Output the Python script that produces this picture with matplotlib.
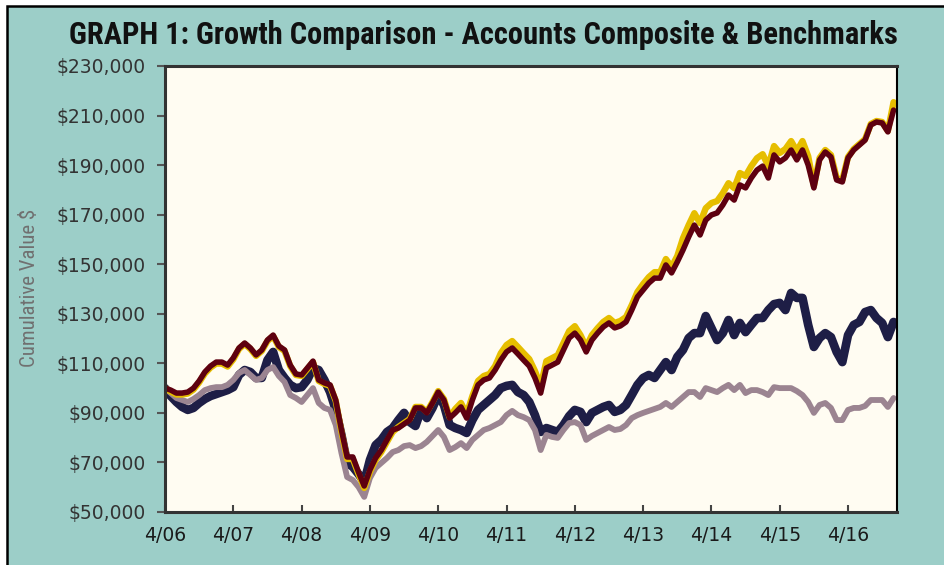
import matplotlib.pyplot as plt
import numpy as np
from matplotlib import font_manager
from matplotlib.patches import Rectangle

# monthly points, 4/06 .. 12/16 (values in $ thousands)
start_year = 2006.25
months = np.arange(129)
dates = start_year + months / 12.0

benchmark_gold = [
    100.0, 98.6, 97.4, 97.4, 97.8, 99.4, 102.3, 105.9, 108.3, 109.9, 109.9, 108.7,
    111.6, 115.8, 117.8, 115.8, 113.0, 115.0, 119.0, 121.0, 116.6, 115.0, 108.9, 105.3,
    104.9, 107.7, 110.5, 102.9, 101.7, 100.9, 94.8, 82.3, 71.4, 71.4, 65.3, 59.7,
    66.2, 71.0, 74.2, 78.3, 82.3, 84.3, 85.9, 87.5, 92.4, 92.4, 90.4, 94.4,
    98.8, 95.6, 88.3, 91.6, 94.0, 89.5, 96.8, 102.9, 104.9, 105.7, 108.9, 114.1,
    117.4, 119.0, 116.6, 114.1, 111.7, 106.9, 100.8, 110.9, 112.1, 113.3, 118.2, 123.0,
    125.0, 121.4, 116.6, 121.4, 124.2, 126.7, 128.3, 126.3, 127.1, 128.7, 133.5, 138.8,
    142.0, 144.8, 146.8, 146.8, 152.1, 148.9, 153.3, 160.5, 165.8, 170.6, 166.6, 172.6,
    174.7, 175.5, 178.7, 182.7, 180.7, 186.8, 185.6, 189.6, 192.8, 194.4, 189.6, 197.7,
    194.9, 196.5, 199.7, 195.7, 199.7, 193.6, 181.6, 192.9, 196.1, 194.1, 184.8, 184.0,
    193.3, 196.5, 198.5, 200.5, 206.6, 207.8, 207.4, 203.8, 215.4,
]

benchmark_maroon = [
    100.0, 99.2, 98.0, 98.0, 98.4, 100.0, 102.9, 106.5, 108.9, 110.5, 110.5, 109.3,
    112.2, 116.2, 118.2, 116.2, 113.4, 115.4, 119.4, 121.4, 117.0, 115.4, 109.3, 105.7,
    105.3, 108.1, 110.9, 103.3, 102.1, 101.3, 95.2, 83.1, 72.2, 72.2, 66.1, 60.5,
    67.0, 71.8, 75.0, 79.1, 83.1, 83.9, 85.5, 87.1, 92.0, 92.0, 90.0, 94.0,
    98.4, 95.2, 87.9, 90.0, 92.4, 87.9, 95.2, 101.3, 103.3, 104.1, 107.3, 111.3,
    114.6, 116.2, 113.8, 111.3, 108.9, 104.1, 98.0, 108.1, 109.3, 110.5, 115.4, 120.2,
    122.2, 119.4, 114.6, 119.4, 122.2, 124.7, 126.3, 124.3, 125.1, 126.7, 131.5, 136.8,
    139.6, 142.4, 144.4, 144.4, 149.7, 146.5, 150.9, 155.7, 161.0, 165.8, 161.8, 167.8,
    169.9, 170.7, 173.9, 177.9, 175.9, 182.0, 180.8, 184.8, 188.0, 189.6, 184.8, 194.1,
    191.3, 192.9, 196.1, 192.1, 196.1, 190.0, 180.8, 192.1, 195.3, 193.3, 184.0, 183.2,
    192.9, 196.1, 198.1, 200.1, 206.2, 207.4, 207.0, 203.4, 212.2,
]

composite_navy = [
    100.0, 96.8, 94.4, 92.4, 91.2, 92.0, 94.0, 95.6, 96.8, 97.6, 98.4, 99.2,
    100.4, 105.3, 107.3, 106.5, 104.1, 104.1, 111.3, 114.6, 107.3, 104.1, 101.3, 100.0,
    100.4, 103.3, 108.1, 107.3, 103.3, 98.4, 91.2, 81.1, 69.8, 68.2, 65.3, 62.1,
    71.0, 77.0, 79.1, 82.3, 83.9, 87.1, 90.0, 86.3, 84.7, 91.2, 87.9, 92.0,
    97.2, 93.2, 85.1, 83.9, 83.1, 81.9, 87.1, 91.2, 93.2, 95.2, 97.2, 100.0,
    100.9, 101.3, 98.4, 97.2, 94.4, 89.1, 82.3, 83.9, 83.1, 82.3, 85.1, 88.7,
    91.2, 90.4, 86.3, 90.0, 91.2, 92.4, 93.2, 90.4, 91.2, 93.2, 97.2, 101.3,
    104.1, 105.3, 104.1, 107.3, 110.5, 107.3, 112.6, 115.4, 120.2, 122.2, 122.2, 129.1,
    124.3, 119.4, 122.2, 127.5, 121.4, 126.3, 122.6, 125.5, 128.3, 128.3, 131.5, 133.9,
    134.4, 131.5, 138.4, 136.4, 136.4, 125.5, 116.6, 120.2, 122.2, 120.6, 114.6, 110.5,
    121.4, 125.5, 126.7, 130.7, 131.5, 128.3, 126.3, 120.6, 126.7,
]

benchmark_gray = [
    100.0, 98.0, 96.0, 95.2, 94.4, 95.6, 97.2, 99.2, 100.0, 100.4, 100.4, 101.3,
    103.3, 106.1, 107.3, 105.3, 103.3, 104.1, 107.3, 108.5, 104.9, 102.5, 97.2, 96.0,
    94.4, 97.2, 100.0, 94.0, 92.0, 91.2, 85.1, 73.8, 64.1, 62.9, 60.1, 56.1,
    63.7, 67.8, 69.8, 71.8, 74.2, 75.0, 76.6, 77.0, 75.8, 76.6, 78.3, 80.7,
    83.1, 80.3, 75.0, 76.2, 77.8, 75.8, 79.1, 81.1, 83.1, 83.9, 85.1, 86.3,
    89.1, 90.8, 89.1, 88.3, 87.1, 83.1, 75.0, 81.1, 80.3, 79.9, 83.1, 85.9,
    86.3, 85.1, 79.1, 80.7, 81.9, 83.1, 84.3, 83.1, 83.5, 85.1, 87.9, 89.1,
    90.0, 90.8, 91.6, 92.4, 94.0, 92.4, 94.4, 96.4, 98.4, 98.4, 96.4, 100.0,
    99.2, 98.4, 100.0, 101.3, 99.2, 101.3, 98.0, 99.2, 99.2, 98.4, 97.2, 100.4,
    100.0, 100.0, 100.0, 98.8, 97.2, 94.4, 90.0, 93.2, 94.0, 92.0, 87.1, 87.1,
    91.2, 92.0, 92.0, 92.8, 95.2, 95.2, 95.2, 92.4, 96.0,
]

tick_years = np.arange(2006.25, 2017, 1.0)
tick_labels = ["4/06", "4/07", "4/08", "4/09", "4/10", "4/11",
               "4/12", "4/13", "4/14", "4/15", "4/16"]
y_ticks = np.arange(50000, 230001, 20000)

teal = "#9CCEC8"

# pick a narrow face if there is one
installed = {f.name for f in font_manager.fontManager.ttflist}
narrow = "DejaVu Sans"
for name in ["Liberation Sans Narrow", "Roboto Condensed", "Open Sans Condensed",
             "DejaVu Sans Condensed"]:
    if name in installed:
        narrow = name
        break
is_narrow = narrow != "DejaVu Sans"

fig = plt.figure(figsize=(9.45, 5.65), dpi=100)
fig.patch.set_facecolor("white")
fig.patches.append(Rectangle((7.5 / 945, -0.05), 1.1, (565 - 5.5) / 565 + 0.05,
                             transform=fig.transFigure, facecolor=teal,
                             edgecolor="black", linewidth=1.8, zorder=-10))

ax = fig.add_axes([165 / 945, 53 / 565, 732 / 945, 446 / 565])
ax.set_facecolor("#FFFCF2")

to_dollars = lambda s: np.array(s) * 1000
ax.plot(dates, to_dollars(composite_navy), color="#1E1E46", lw=6.2,
        solid_joinstyle="round", solid_capstyle="round")
ax.plot(dates, to_dollars(benchmark_gray), color="#9B8491", lw=4.2,
        solid_joinstyle="round", solid_capstyle="round")
ax.plot(dates, to_dollars(benchmark_gold), color="#E6BE00", lw=4.6,
        solid_joinstyle="round", solid_capstyle="round")
ax.plot(dates, to_dollars(benchmark_maroon), color="#5E0010", lw=4.0,
        solid_joinstyle="round", solid_capstyle="round")

ax.set_xlim(2006.25, 2016.967)
ax.set_ylim(50000, 230000)
ax.set_xticks(tick_years)
ax.set_xticklabels(tick_labels)
ax.set_yticks(y_ticks)
ax.set_yticklabels(["${:,.0f}".format(v) for v in y_ticks])

ax.tick_params(axis="y", direction="out", length=6, width=1.5, color="#555555",
               labelsize=13.5, labelcolor="#333333", pad=8)
ax.tick_params(axis="x", direction="in", length=5, width=1.5, color="#444444",
               labelsize=13.5, labelcolor="#1a1a1a", pad=10)

for side in ["left", "bottom", "top"]:
    ax.spines[side].set_color("#333333")
    ax.spines[side].set_linewidth(2.2)
ax.spines["right"].set_color("black")
ax.spines["right"].set_linewidth(1.5)

fig.text(483 / 945, 1 - 35 / 565,
         "GRAPH 1: Growth Comparison - Accounts Composite & Benchmarks",
         ha="center", va="center", fontsize=22 if is_narrow else 16.5,
         fontweight="bold", family=narrow, color="#111111")
fig.text(30 / 945, 1 - 288 / 565, "Cumulative Value $", rotation=90,
         ha="center", va="center", fontsize=15 if is_narrow else 12,
         family=narrow, color="#707070")

fig.savefig("out.png", dpi=100, facecolor=fig.get_facecolor())
